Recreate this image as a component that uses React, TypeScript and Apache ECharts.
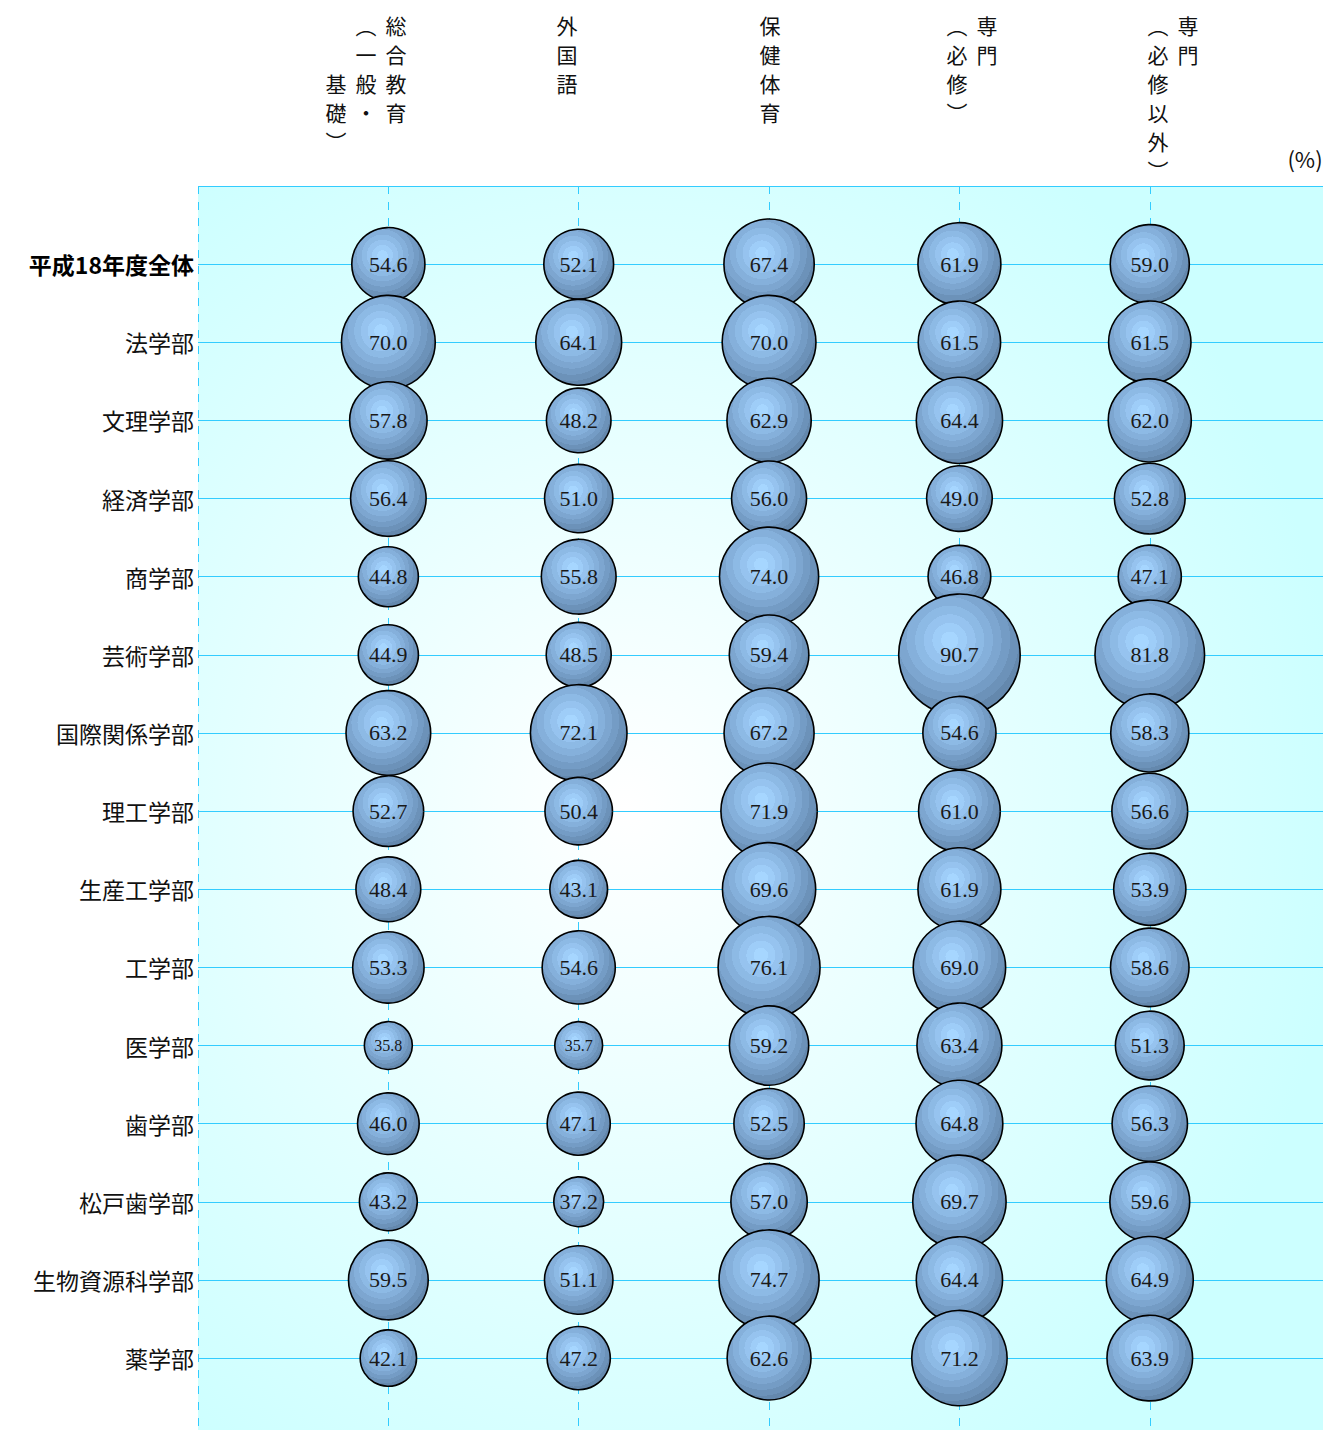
import React, { useEffect, useRef } from "react";
import * as echarts from "echarts";

// Course groups (columns) and faculties (rows)
const courseGroups = ["総合教育（一般・基礎）", "外国語", "保健体育", "専門（必修）", "専門（必修以外）"];

// Vertical header text, columns listed right-to-left; "　" keeps a cell empty
const headerColumns: string[][] = [
  ["総合教育", "︵一般・", "　　基礎︶"],
  ["外国語"],
  ["保健体育"],
  ["専門", "︵必修︶"],
  ["専門", "︵必修以外︶"],
];

const unitLabel = "(%)";

const faculties = [
  "平成18年度全体",
  "法学部",
  "文理学部",
  "経済学部",
  "商学部",
  "芸術学部",
  "国際関係学部",
  "理工学部",
  "生産工学部",
  "工学部",
  "医学部",
  "歯学部",
  "松戸歯学部",
  "生物資源科学部",
  "薬学部",
];

const generalEdu = [54.6, 70.0, 57.8, 56.4, 44.8, 44.9, 63.2, 52.7, 48.4, 53.3, 35.8, 46.0, 43.2, 59.5, 42.1];
const foreignLang = [52.1, 64.1, 48.2, 51.0, 55.8, 48.5, 72.1, 50.4, 43.1, 54.6, 35.7, 47.1, 37.2, 51.1, 47.2];
const physEdu = [67.4, 70.0, 62.9, 56.0, 74.0, 59.4, 67.2, 71.9, 69.6, 76.1, 59.2, 52.5, 57.0, 74.7, 62.6];
const majorRequired = [61.9, 61.5, 64.4, 49.0, 46.8, 90.7, 54.6, 61.0, 61.9, 69.0, 63.4, 64.8, 69.7, 64.4, 71.2];
const majorElective = [59.0, 61.5, 62.0, 52.8, 47.1, 81.8, 58.3, 56.6, 53.9, 58.6, 51.3, 56.3, 59.6, 64.9, 63.9];

const columnValues = [generalEdu, foreignLang, physEdu, majorRequired, majorElective];

const CJK = '"Noto Sans CJK JP", "Noto Sans", sans-serif';
const SERIF = '"Liberation Serif", "DejaVu Serif", serif';
const GRID_COLOR = "#33ccff";

// Banded radial fill for the bubbles
const bandColors = ["#a6d6ff", "#9ecdf8", "#96c3ef", "#8dbae5", "#85b0db", "#7da6d0", "#749cc5", "#6c92b9", "#6488ad"];
function bubbleFill() {
  const stops: { offset: number; color: string }[] = [];
  const n = bandColors.length;
  bandColors.forEach((c, i) => {
    stops.push({ offset: i / n, color: c });
    stops.push({ offset: (i + 1) / n, color: c });
  });
  return { type: "radial", x: 0.42, y: 0.38, r: 0.64, colorStops: stops };
}

export default function App() {
  const ref = useRef<HTMLDivElement>(null);

  useEffect(() => {
    document.body.style.margin = "0";
    if (!ref.current) return;
    const chart = echarts.init(ref.current, undefined, { renderer: "svg" });

    const data: any[] = [];
    faculties.forEach((_, r) => {
      columnValues.forEach((vals, c) => {
        const v = vals[r];
        data.push({
          value: [c + 1, r, v],
          label: { fontSize: v < 37 ? 16 : 22 },
        });
      });
    });

    // header characters placed as vertical writing
    const graphics: any[] = [];
    const headerX = [396, 567, 770, 987, 1188];
    const colGap = 30;
    const rowGap = 29;
    headerColumns.forEach((cols, h) => {
      cols.forEach((col, ci) => {
        Array.from(col).forEach((ch, ri) => {
          if (ch === "　") return;
          graphics.push({
            type: "text",
            x: headerX[h] - ci * colGap,
            y: 25 + ri * rowGap,
            style: {
              text: ch,
              font: `21px ${CJK}`,
              fill: "#111",
              align: "center",
              verticalAlign: "middle",
            },
          });
        });
      });
    });
    graphics.push({
      type: "text",
      x: 1305,
      y: 158,
      style: { text: unitLabel, font: `22px ${CJK}`, fill: "#111", align: "center", verticalAlign: "middle" },
    });

    chart.setOption({
      animation: false,
      grid: {
        left: 198,
        top: 186,
        right: 1,
        bottom: 0,
        show: true,
        borderWidth: 0,
        backgroundColor: {
          type: "radial",
          x: 0.38,
          y: 0.5,
          r: 0.64,
          colorStops: [
            { offset: 0, color: "#ffffff" },
            { offset: 1, color: "#ccffff" },
          ],
        },
      },
      xAxis: {
        type: "value",
        min: 0,
        max: 5.91,
        interval: 1,
        axisLine: { show: false },
        axisTick: { show: false },
        axisLabel: { show: false },
        splitLine: {
          show: true,
          showMaxLine: false,
          lineStyle: { color: GRID_COLOR, type: [8, 8], width: 1 },
        },
      },
      yAxis: {
        type: "value",
        inverse: true,
        min: -1,
        max: 14.92,
        interval: 1,
        axisLine: { show: false },
        axisTick: { show: false },
        splitLine: {
          show: true,
          showMaxLine: false,
          lineStyle: { color: GRID_COLOR, width: 1 },
        },
        axisLabel: {
          showMaxLabel: false,
          margin: 4,
          fontFamily: CJK,
          fontSize: 23,
          color: "#111",
          formatter: (v: number) => {
            const name = faculties[Math.round(v)];
            if (v < 0 || name === undefined || Math.abs(v - Math.round(v)) > 1e-6) return "";
            return Math.round(v) === 0 ? `{b|${name}}` : name;
          },
          rich: {
            b: { fontFamily: CJK, fontSize: 23, fontWeight: "bold", color: "#000" },
          },
        },
      },
      graphic: graphics,
      series: [
        {
          type: "scatter",
          data,
          symbol: "circle",
          symbolSize: (val: number[]) => val[2] * 1.34,
          itemStyle: {
            color: bubbleFill(),
            borderColor: "#000",
            borderWidth: 1.6,
            opacity: 1,
          },
          label: {
            show: true,
            position: "inside",
            fontFamily: SERIF,
            color: "#1a1a1a",
            formatter: (p: any) => p.value[2].toFixed(1),
          },
          emphasis: { disabled: true },
        },
      ],
    });

    return () => chart.dispose();
  }, []);

  return <div ref={ref} style={{ width: 1324, height: 1430 }} />;
}
